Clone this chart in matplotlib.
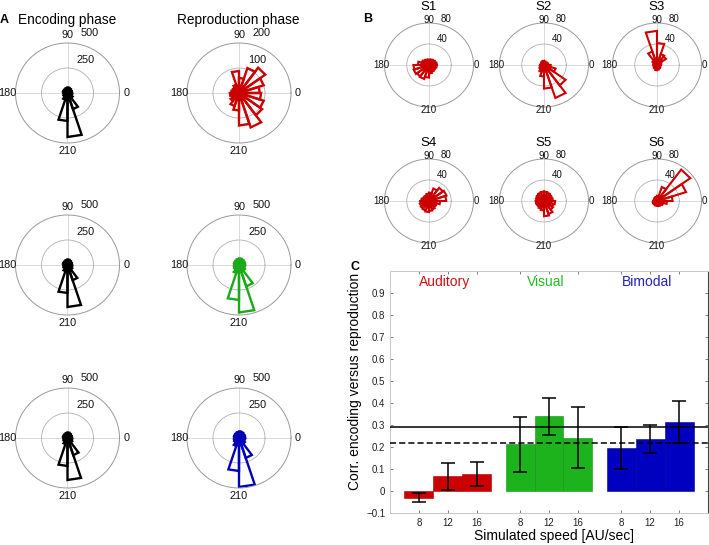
import numpy as np
import matplotlib.pyplot as plt

plt.rcParams['font.family'] = ['Liberation Sans', 'DejaVu Sans']

W, H = 709, 545
fig = plt.figure(figsize=(W / 100, H / 100), dpi=100)

# rose histograms: 20 bins of 18 degrees (MATLAB rose)
bin_edges = np.linspace(0, 360, 21)

# Panel A - counts per phase bin
enc_row1 = [45, 40, 45, 50, 55, 50, 45, 40, 45, 40, 35, 40, 45, 70, 280, 440, 170, 60, 45, 40]
rep_row1 = [80, 100, 125, 105, 60, 88, 35, 28, 25, 30, 35, 30, 40, 55, 70, 130, 145, 110, 100, 85]
enc_row2 = [45, 40, 45, 50, 55, 50, 45, 40, 45, 40, 35, 40, 45, 65, 280, 420, 160, 55, 45, 40]
rep_row2 = [60, 55, 60, 65, 65, 60, 55, 50, 50, 45, 45, 50, 55, 85, 350, 475, 225, 70, 55, 55]
enc_row3 = [45, 40, 45, 50, 55, 50, 45, 40, 45, 40, 35, 40, 45, 65, 280, 420, 180, 55, 45, 40]
rep_row3 = [60, 55, 60, 65, 65, 60, 55, 50, 50, 45, 45, 50, 55, 85, 330, 490, 210, 70, 55, 55]
rmax_enc = 500
rmax_rep = [200, 500, 500]
rep_colors = ['#cc0000', '#1aaa1a', '#0000bb']

# Panel B - single subjects (reproduction phase)
subjects = ['S1', 'S2', 'S3', 'S4', 'S5', 'S6']
s1 = [14, 13, 12, 11, 10, 10, 11, 12, 14, 20, 28, 29, 27, 28, 24, 16, 14, 13, 13, 14]
s2 = [8, 7, 6, 6, 7, 8, 7, 6, 6, 6, 7, 8, 10, 14, 22, 45, 66, 48, 22, 12]
s3 = [7, 8, 20, 22, 42, 65, 27, 10, 7, 6, 6, 6, 7, 8, 10, 9, 8, 7, 6, 6]
s4 = [31, 33, 31, 25, 16, 14, 12, 11, 12, 14, 16, 17, 18, 19, 21, 19, 17, 15, 14, 20]
s5 = [16, 15, 16, 17, 18, 18, 17, 16, 15, 14, 15, 14, 14, 16, 18, 29, 26, 20, 18, 20]
s6 = [28, 55, 74, 28, 10, 8, 7, 6, 6, 6, 7, 8, 8, 8, 9, 9, 10, 10, 12, 18]
rmax_subj = 80

# Panel C - correlation encoding vs reproduction
speeds = ['8', '12', '16']
modalities = ['Auditory', 'Visual', 'Bimodal']
aud_mean = [-0.03, 0.066, 0.076]
aud_err = [0.022, 0.062, 0.054]
vis_mean = [0.212, 0.339, 0.243]
vis_err = [0.125, 0.084, 0.138]
bim_mean = [0.195, 0.238, 0.313]
bim_err = [0.096, 0.063, 0.095]
ref_solid = 0.29
ref_dashed = 0.22
bar_colors = ['#cc0000', '#1db31d', '#0000c0']
edge_colors = ['#a00000', '#139013', '#000090']
text_colors = ['#cc1111', '#22bb22', '#2222bb']


def px_rect(cx, cy, rx, ry):
    return [(cx - rx) / W, 1 - (cy + ry) / H, 2 * rx / W, 2 * ry / H]


def rose(cx, cy, rx, ry, counts, rmax, color, lw, labels, fs):
    ax = fig.add_axes(px_rect(cx, cy, rx, ry), projection='polar')
    ax.set_aspect('auto')
    ax.set_facecolor('none')
    for i, c in enumerate(counts):
        t = np.deg2rad([0, bin_edges[i], bin_edges[i + 1], 0])
        ax.plot(t, [0, c, c, 0], color=color, lw=lw, solid_joinstyle='miter')
    ax.set_ylim(0, rmax)
    ax.set_rgrids([rmax / 2], labels=[''])
    ax.set_thetagrids([0, 90, 180, 270], labels=[''] * 4)
    ax.xaxis.grid(True, color='#d9d9d9', lw=0.7)
    ax.yaxis.grid(True, color='#b0b0b0', lw=0.6)
    ax.spines['polar'].set_color('#999999')
    ax.spines['polar'].set_linewidth(0.7)
    ax.tick_params(length=0)
    for txt, ang, dist in labels:
        ax.text(np.deg2rad(ang), dist * rmax, txt, ha='center', va='center',
                fontsize=fs, color='#111111')
    return ax


def a_labels(rmax):
    return [('90', 90, 1.16), ('0', 0, 1.13), ('180', 180, 1.15), ('210', 270, 1.16),
            (str(rmax), 70, 1.27), (str(rmax // 2), 62, 0.745)]


def b_labels(rmax):
    return [('90', 90, 1.06), ('0', 0, 1.06), ('180', 180, 1.065), ('210', 270, 1.08),
            (str(rmax), 71, 1.15), (str(rmax // 2), 65, 0.675)]


# ---- Panel A
col_x = [67.5, 239]
row_y = [93, 265, 438]
enc_rows = [enc_row1, enc_row2, enc_row3]
rep_rows = [rep_row1, rep_row2, rep_row3]
for r in range(3):
    rose(col_x[0], row_y[r], 52, 50, enc_rows[r], rmax_enc, 'black', 1.7,
         a_labels(rmax_enc), 7.8)
    rose(col_x[1], row_y[r], 52, 50, rep_rows[r], rmax_rep[r], rep_colors[r], 1.7,
         a_labels(rmax_rep[r]), 7.8)

fig.text(4 / W, 1 - 20 / H, 'A', fontsize=9, fontweight='bold', ha='center', va='center')
fig.text(67.5 / W, 1 - 20 / H, 'Encoding phase', fontsize=9.8, ha='center', va='center')
fig.text(238.5 / W, 1 - 20 / H, 'Reproduction phase', fontsize=9.8, ha='center', va='center')

# ---- Panel B
b_x = [429, 544, 657]
b_y = [65, 201]
subj_counts = [s1, s2, s3, s4, s5, s6]
for i, name in enumerate(subjects):
    cx, cy = b_x[i % 3], b_y[i // 3]
    rose(cx, cy, 44.5, 42, subj_counts[i], rmax_subj, '#cc0000', 1.5,
         b_labels(rmax_subj), 7)
    fig.text(cx / W, 1 - (cy - 57.7) / H, name, fontsize=9.5, ha='center', va='center')

fig.text(368 / W, 1 - 19 / H, 'B', fontsize=9, fontweight='bold', ha='center', va='center')

# ---- Panel C
axc = fig.add_axes([390 / W, 1 - 513 / H, 318 / W, 242 / H])
means = [aud_mean, vis_mean, bim_mean]
errs = [aud_err, vis_err, bim_err]
all_pos = []
for g in range(3):
    pos = np.arange(3) + 1 + 3.5 * g
    all_pos.extend(pos)
    axc.bar(pos, means[g], width=1.0, color=bar_colors[g], edgecolor=edge_colors[g],
            linewidth=0.4, zorder=2)
    axc.errorbar(pos, means[g], yerr=errs[g], fmt='none', ecolor='black',
                 elinewidth=1.1, capsize=5, capthick=1.1, zorder=4)
    axc.text(pos[1] - 0.12, 0.95, modalities[g], color=text_colors[g], fontsize=10,
             ha='center', va='center')

axc.axhline(ref_solid, color='black', lw=1.1, zorder=3)
axc.axhline(ref_dashed, color='black', lw=1.1, ls=(0, (4, 2)), zorder=3)

axc.set_xlim(0, 11)
axc.set_ylim(-0.1, 1.0)
axc.set_xticks(all_pos)
axc.set_xticklabels(speeds * 3)
yt = np.round(np.arange(-0.1, 0.95, 0.1), 1)
axc.set_yticks(yt)
axc.set_yticklabels(['\u22120.1', '0'] + ['%.1f' % v for v in yt[2:]])
axc.tick_params(direction='in', length=2, width=0.6, colors='#666666', labelcolor='#222222',
                labelsize=7, top=True, right=True, pad=3.5)
for side in ['left', 'top', 'bottom']:
    axc.spines[side].set_color('#c8c8c8')
    axc.spines[side].set_linewidth(0.7)
axc.spines['right'].set_color('#444444')
axc.spines['right'].set_linewidth(0.8)

axc.set_ylabel('Corr. encoding versus reproduction', fontsize=10)
axc.yaxis.set_label_coords(-0.088, 0.545)
axc.set_xlabel('Simulated speed [AU/sec]', fontsize=10)
axc.xaxis.set_label_coords(0.516, -0.068)

fig.text(355 / W, 1 - 267 / H, 'C', fontsize=9, fontweight='bold', ha='center', va='center')

fig.savefig('out.png', dpi=100)
